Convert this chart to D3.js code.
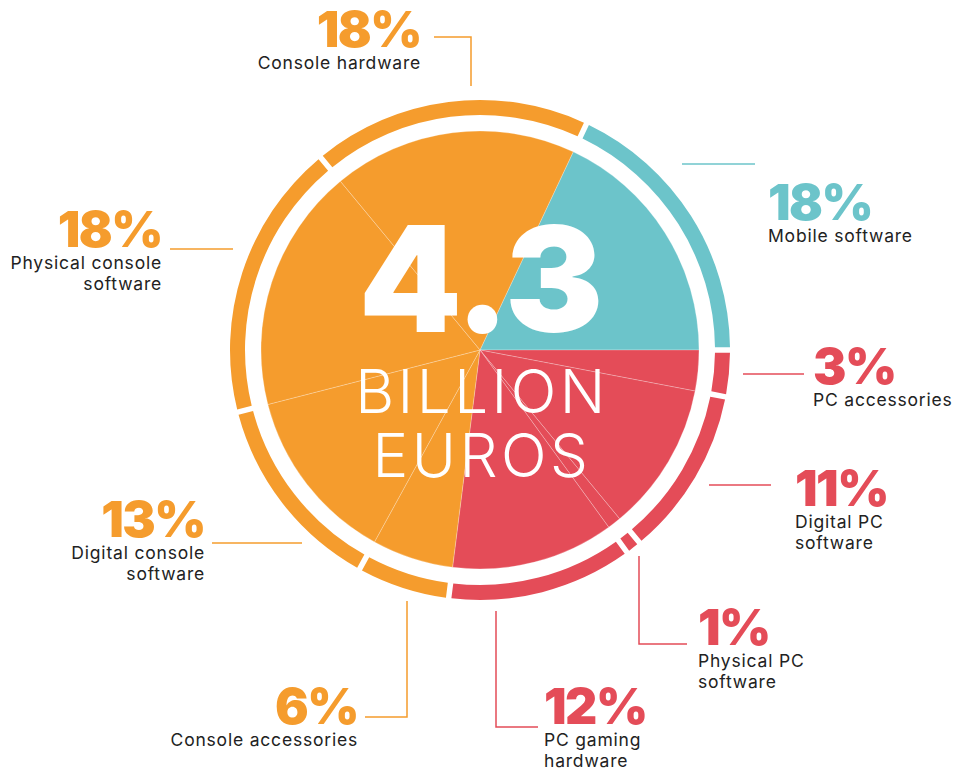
<!DOCTYPE html>
<html>
<head>
<meta charset="utf-8">
<script src="https://cdn.jsdelivr.net/npm/d3@7"></script>
<style>
  body { margin: 0; background: #fff; }
  svg { display: block; }
</style>
</head>
<body>
<script>
const WIDTH = 953;
const HEIGHT = 769;

// data, clockwise starting from the mobile slice
const categories = ["Mobile software", "PC accessories", "Digital PC software", "Physical PC software",
                    "PC gaming hardware", "Console accessories", "Digital console software",
                    "Physical console software", "Console hardware"];
const shares = [18, 3, 11, 1, 12, 6, 13, 18, 18];
const groups = ["mobile", "pc", "pc", "pc", "pc", "console", "console", "console", "console"];
const labelLines = [["Mobile software"], ["PC accessories"], ["Digital PC", "software"], ["Physical PC", "software"],
                    ["PC gaming", "hardware"], ["Console accessories"], ["Digital console", "software"],
                    ["Physical console", "software"], ["Console hardware"]];
const totalValue = "4.3";
const totalUnit = ["BILLION", "EUROS"];

const colors = { mobile: "#6CC4CA", pc: "#E44C58", console: "#F59C2D" };

// label layout: text anchor, alignment and leader polyline
const layout = [
  { x: 768, y: 220, anchor: "start", line: [[682,164],[755,164]] },
  { x: 813, y: 384, anchor: "start", line: [[743,374],[804,374]] },
  { x: 795, y: 506, anchor: "start", line: [[709,485],[771,485]] },
  { x: 698, y: 645, anchor: "start", line: [[639,556],[639,644],[687,644]] },
  { x: 544, y: 724, anchor: "start", line: [[496,611],[496,727],[538,727]] },
  { x: 358, y: 724, anchor: "end",   line: [[407,601],[407,717],[365,717]] },
  { x: 205, y: 537, anchor: "end",   line: [[302,543],[212,543]] },
  { x: 162, y: 247, anchor: "end",   line: [[233,249],[170,249]] },
  { x: 421, y: 47,  anchor: "end",   line: [[434,37],[471,37],[471,86]] }
];

const cx = 480, cy = 350;
const R_PIE = 219, R_RING_IN = 235, R_RING_OUT = 250;

const svg = d3.select("body").append("svg")
  .attr("width", WIDTH)
  .attr("height", HEIGHT);

const start = 0.07 * 2 * Math.PI;
const pie = d3.pie().sort(null)
  .startAngle(start)
  .endAngle(start + 2 * Math.PI);
const arcsData = pie(shares);

const g = svg.append("g").attr("transform", "translate(" + cx + "," + cy + ")");

// inner pie
const pieArc = d3.arc().innerRadius(0).outerRadius(R_PIE);
g.selectAll("path.slice")
  .data(arcsData)
  .enter()
  .append("path").attr("class", "slice")
    .attr("d", pieArc)
    .style("fill", (d, i) => colors[groups[i]])
    .style("stroke", "rgba(255,255,255,0.35)")
    .style("stroke-width", 0.7);

// outer ring
const ringArc = d3.arc().innerRadius(R_RING_IN).outerRadius(R_RING_OUT).padAngle(0.016);
g.selectAll("path.ring")
  .data(arcsData)
  .enter()
  .append("path").attr("class", "ring")
    .attr("d", ringArc)
    .style("fill", (d, i) => colors[groups[i]]);

// centre text
g.append("text")
  .attr("x", 0)
  .attr("y", -18)
  .attr("text-anchor", "middle")
  .style("font-family", "Inter")
  .style("font-weight", 900)
  .style("font-size", "147px")
  .style("letter-spacing", "-2px")
  .style("fill", "#fff")
  .text(totalValue);
totalUnit.forEach((t, i) => {
  g.append("text")
    .attr("x", 2)
    .attr("y", 63 + i * 64)
    .attr("text-anchor", "middle")
    .style("font-family", "Inter")
    .style("font-weight", 300)
    .style("font-size", "60px")
    .style("letter-spacing", "3.5px")
    .style("fill", "#fff")
    .text(t);
});

// labels
const line = d3.line();
layout.forEach((L, i) => {
  const col = colors[groups[i]];
  svg.append("path")
    .attr("d", line(L.line))
    .style("fill", "none")
    .style("stroke", col)
    .style("stroke-width", 1.5);
  svg.append("text")
    .attr("x", L.x)
    .attr("y", L.y)
    .attr("text-anchor", L.anchor)
    .style("font-family", "Inter")
    .style("font-weight", 900)
    .style("font-size", "50px")
    .style("letter-spacing", "-1.5px")
    .style("fill", col)
    .text(shares[i] + "%");
  labelLines[i].forEach((t, j) => {
    svg.append("text")
      .attr("x", L.x)
      .attr("y", L.y + 22 + j * 21)
      .attr("text-anchor", L.anchor)
      .style("font-family", "Inter")
      .style("font-size", "17.5px")
      .style("letter-spacing", "0.8px")
      .style("fill", "#222")
      .text(t);
  });
});
</script>
</body>
</html>
